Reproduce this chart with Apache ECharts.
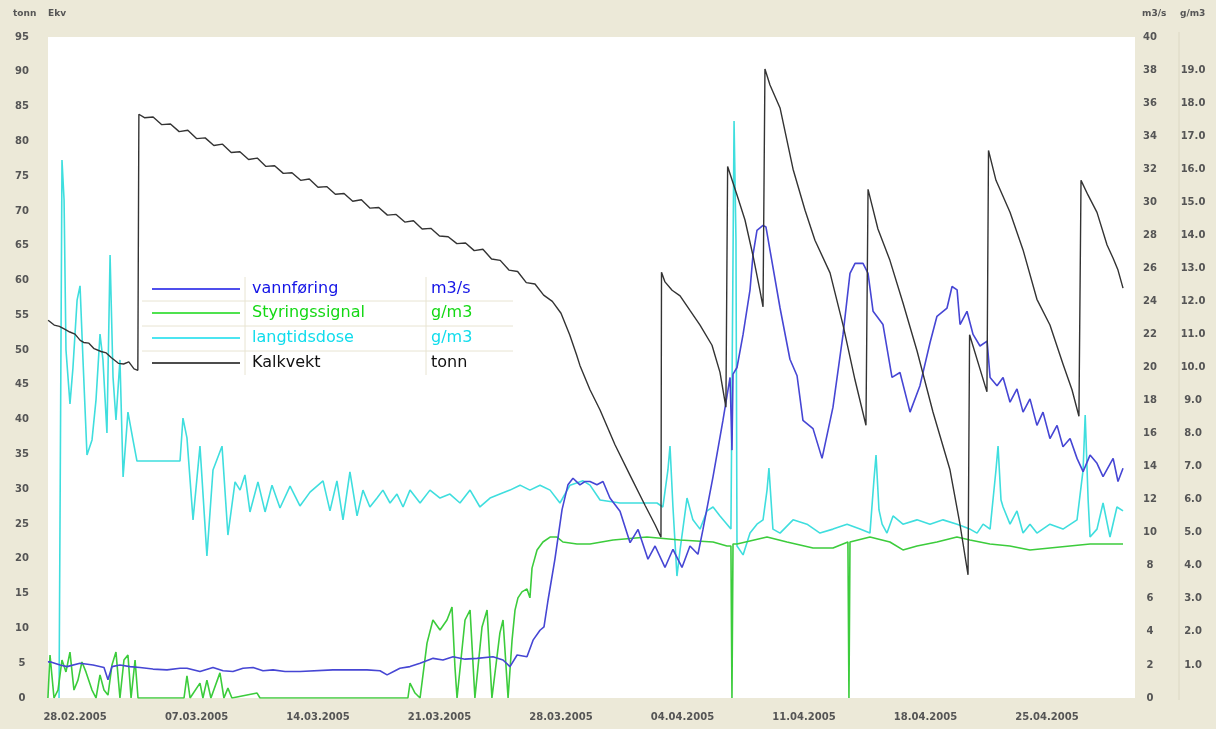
<!DOCTYPE html>
<html>
<head>
<meta charset="utf-8">
<script src="https://cdn.jsdelivr.net/npm/echarts@6/dist/echarts.min.js"></script>
<style>
html,body{margin:0;padding:0;background:#ECE9D8;}
#chart{width:1216px;height:729px;}
</style>
</head>
<body>
<div id="chart"></div>
<script>
// x values are days counted from 28.02.2005 00:00
const dateTicks = [0, 7, 14, 21, 28, 35, 42, 49, 56];
const dateLabels = ['28.02.2005','07.03.2005','14.03.2005','21.03.2005','28.03.2005','04.04.2005','11.04.2005','18.04.2005','25.04.2005'];

const seriesNames = ['vannføring', 'Styringssignal', 'langtidsdose', 'Kalkvekt'];
const seriesUnits = ['m3/s', 'g/m3', 'g/m3', 'tonn'];

// Kalkvekt (tonn, left axis)
const kalkvekt = [
[-1.55,54.3],[-1.2,53.6],[-0.9,53.4],[-0.6,53.0],[-0.3,52.6],[0.0,52.3],[0.3,51.4],[0.5,51.1],[0.8,51.0],[1.1,50.2],[1.5,49.8],[1.8,49.6],[2.1,48.9],[2.5,48.1],[2.8,48.0],[3.1,48.3],[3.4,47.3],[3.62,47.1],
[3.68,83.9],[3.75,83.9],[4.0,83.4],[4.5,83.5],[5.0,82.4],[5.5,82.5],[6.0,81.4],[6.5,81.6],[7.0,80.4],[7.5,80.5],[8.0,79.4],[8.5,79.6],[9.0,78.4],[9.5,78.5],[10.0,77.4],[10.5,77.6],[11.0,76.4],[11.5,76.5],[12.0,75.4],[12.5,75.5],[13.0,74.4],[13.5,74.6],[14.0,73.4],[14.5,73.5],[15.0,72.4],[15.5,72.5],[16.0,71.4],[16.5,71.6],[17.0,70.4],[17.5,70.5],[18.0,69.4],[18.5,69.5],[19.0,68.4],[19.5,68.6],[20.0,67.4],[20.5,67.5],[21.0,66.4],[21.5,66.3],[22.0,65.3],[22.5,65.4],[23.0,64.3],[23.5,64.5],[24.0,63.1],[24.5,62.9],[25.0,61.5],[25.5,61.3],[26.0,59.7],[26.5,59.5],[27.0,57.9],[27.5,57.0],[28.0,55.3],[28.5,52.2],[28.9,49.3],[29.09,47.8],[29.67,44.3],[30.25,41.4],[31.11,36.4],[31.98,32.0],[32.84,27.7],[33.42,24.9],[33.76,23.1],
[33.79,61.2],[33.99,59.8],[34.40,58.6],[34.86,57.8],[35.43,55.7],[36.01,53.6],[36.70,50.7],[37.16,46.8],[37.50,41.8],
[37.60,76.4],[38.14,72.3],[38.60,68.7],[39.06,63.6],[39.46,58.6],[39.64,56.2],
[39.75,90.4],[40.04,88.1],[40.62,84.8],[41.37,76.0],[42.06,70.1],[42.63,65.8],[43.50,61.1],[44.25,53.6],[44.94,45.7],[45.57,39.2],
[45.69,73.1],[45.92,70.8],[46.26,67.4],[46.95,62.9],[47.70,56.8],[48.51,49.9],[49.43,41.1],[50.41,32.8],[50.99,24.9],[51.45,17.7],
[51.54,52.2],[52.54,44.0],
[52.63,78.7],[53.06,74.4],[53.87,69.8],[54.62,64.4],[55.42,57.3],[56.17,53.6],[56.92,48.0],[57.44,44.3],[57.84,40.5],
[57.96,74.4],[58.36,72.3],[58.88,69.8],[59.46,65.1],[59.81,63.2],[60.09,61.5],[60.38,58.9]
];

// vannføring (m3/s, right axis)
const vannforing = [
[-1.56,2.18],[-1.44,2.2],[-0.86,2.0],[-0.46,1.9],[0.29,2.1],[1.04,2.0],[1.67,1.85],[1.90,1.1],[2.13,1.9],[2.59,2.0],[3.17,1.9],[3.74,1.85],[4.49,1.75],[5.30,1.7],[6.05,1.8],[6.45,1.8],[7.20,1.6],[7.95,1.85],[8.53,1.65],[9.10,1.6],[9.68,1.8],[10.26,1.85],[10.83,1.65],[11.41,1.7],[12.10,1.6],[12.96,1.6],[14.86,1.7],[16.82,1.7],[17.57,1.65],[17.98,1.4],[18.44,1.65],[18.72,1.8],[19.30,1.9],[19.88,2.1],[20.63,2.4],[21.20,2.3],[21.78,2.5],[22.47,2.35],[23.16,2.4],[24.08,2.5],[24.66,2.3],[25.06,1.9],[25.47,2.6],[26.04,2.5],[26.39,3.5],[26.79,4.1],[27.02,4.3],[27.25,5.9],[27.65,8.4],[28.06,11.4],[28.40,12.9],[28.69,13.3],[29.09,12.9],[29.38,13.1],[29.67,13.1],[30.07,12.9],[30.42,13.1],[30.82,12.1],[31.40,11.3],[31.98,9.4],[32.44,10.2],[33.01,8.4],[33.42,9.2],[33.99,7.9],[34.45,9.0],[34.97,7.9],[35.43,9.2],[35.89,8.7],[36.18,10.2],[36.76,13.4],[37.33,16.8],[37.74,19.4],[37.79,19.5],[37.85,15.0],[37.91,19.6],[38.14,20.0],[38.49,22.0],[38.89,24.7],[39.06,26.8],[39.29,28.3],[39.64,28.6],[39.81,28.5],[40.04,27.1],[40.62,23.6],[41.19,20.5],[41.60,19.5],[41.94,16.8],[42.52,16.3],[43.04,14.5],[43.67,17.6],[44.25,22.0],[44.65,25.7],[44.94,26.3],[45.40,26.3],[45.69,25.7],[45.98,23.4],[46.55,22.6],[47.07,19.4],[47.53,19.7],[48.11,17.3],[48.68,18.9],[49.26,21.5],[49.66,23.1],[50.24,23.6],[50.53,24.9],[50.82,24.7],[50.99,22.6],[51.39,23.4],[51.74,22.0],[52.14,21.3],[52.55,21.6],[52.72,19.4],[53.12,18.9],[53.47,19.4],[53.87,17.9],[54.27,18.7],[54.62,17.3],[55.02,18.1],[55.42,16.5],[55.77,17.3],[56.17,15.7],[56.58,16.5],[56.92,15.2],[57.33,15.7],[57.73,14.5],[58.08,13.7],[58.48,14.7],[58.88,14.2],[59.23,13.4],[59.81,14.5],[60.09,13.1],[60.38,13.9]
];

// Styringssignal (g/m3, right axis)
const styringssignal = [
[-1.56,0],[-1.44,1.30],[-1.21,0],[-0.98,0.24],[-0.75,1.15],[-0.52,0.79],[-0.29,1.39],[-0.06,0.24],[0.17,0.54],[0.40,1.09],[0.63,0.79],[0.98,0.24],[1.21,0],[1.44,0.70],[1.67,0.24],[1.90,0.09],[2.13,1.00],[2.36,1.39],[2.59,0],[2.82,1.15],[3.05,1.30],[3.23,0],[3.46,1.15],[3.63,0],
[6.28,0],[6.45,0.67],[6.63,0],[7.20,0.45],[7.37,0],[7.60,0.54],[7.83,0],[8.35,0.76],[8.58,0],[8.81,0.30],[9.04,0],[10.49,0.15],[10.66,0],
[19.18,0],[19.30,0.45],[19.59,0.15],[19.88,0],[20.28,1.66],[20.62,2.36],[21.03,2.06],[21.43,2.36],[21.72,2.75],[21.89,0.94],[22.01,0],[22.47,2.36],[22.76,2.66],[23.04,0],[23.45,2.15],[23.74,2.66],[24.02,0],[24.48,1.97],[24.66,2.36],[24.95,0],[25.18,1.75],[25.35,2.66],[25.52,3.03],[25.75,3.21],[26.04,3.30],[26.21,3.03],[26.33,3.93],[26.62,4.48],[26.96,4.72],[27.37,4.87],[27.77,4.87],[28.11,4.72],[28.92,4.66],[29.67,4.66],[31.00,4.78],[32.95,4.87],[34.86,4.78],[36.76,4.72],[37.56,4.60],[37.79,4.60],[37.85,0],[37.91,4.66],[38.14,4.66],[39.87,4.87],[41.02,4.72],[42.52,4.54],[43.67,4.54],[44.53,4.72],[44.59,0],[44.65,4.72],[45.80,4.87],[46.95,4.72],[47.70,4.48],[48.51,4.60],[49.66,4.72],[50.81,4.87],[51.56,4.78],[52.71,4.66],[53.86,4.60],[55.02,4.48],[56.17,4.54],[57.32,4.60],[58.48,4.66],[60.38,4.66]
];

// langtidsdose (g/m3, right axis)
const langtidsdose = [
[-0.92,0],[-0.81,0],[-0.75,16.28],[-0.63,15.07],[-0.52,10.53],[-0.29,8.90],[-0.12,9.98],[0.12,12.04],[0.29,12.47],[0.46,10.23],[0.69,7.35],[0.98,7.81],[1.21,9.02],[1.44,11.01],[1.61,10.23],[1.84,8.02],[2.02,13.40],[2.19,9.71],[2.36,8.41],[2.59,10.23],[2.77,6.69],[3.05,8.65],[3.34,7.81],[3.57,7.17],[6.05,7.17],[6.22,8.47],[6.45,7.87],[6.80,5.39],[7.20,7.62],[7.60,4.30],[7.95,6.90],[8.47,7.62],[8.81,4.93],[9.22,6.54],[9.51,6.29],[9.79,6.75],[10.08,5.63],[10.54,6.54],[10.95,5.63],[11.35,6.44],[11.81,5.75],[12.39,6.41],[12.96,5.81],[13.54,6.23],[14.29,6.57],[14.69,5.66],[15.09,6.57],[15.44,5.39],[15.84,6.84],[16.25,5.51],[16.59,6.29],[16.99,5.78],[17.40,6.05],[17.74,6.29],[18.15,5.90],[18.55,6.17],[18.90,5.78],[19.30,6.29],[19.88,5.90],[20.45,6.29],[21.03,6.05],[21.60,6.17],[22.18,5.90],[22.76,6.29],[23.33,5.78],[23.91,6.05],[24.48,6.17],[25.06,6.29],[25.64,6.44],[26.21,6.29],[26.79,6.44],[27.37,6.29],[27.94,5.90],[28.52,6.44],[29.27,6.57],[29.67,6.44],[30.25,5.99],[31.40,5.90],[32.55,5.90],[33.53,5.90],[33.87,5.78],[34.16,6.90],[34.28,7.62],[34.45,5.78],[34.68,3.69],[34.86,4.48],[35.26,6.05],[35.60,5.39],[36.01,5.11],[36.41,5.66],[36.76,5.78],[37.16,5.51],[37.56,5.26],[37.79,5.11],[37.97,17.46],[38.08,13.86],[38.14,4.60],[38.49,4.33],[38.89,4.99],[39.29,5.26],[39.64,5.39],[39.87,6.29],[39.98,6.96],[40.21,5.11],[40.62,4.99],[41.37,5.39],[42.17,5.26],[42.92,4.99],[43.67,5.11],[44.48,5.26],[45.23,5.11],[45.80,4.99],[46.03,6.60],[46.15,7.35],[46.32,5.69],[46.50,5.26],[46.78,4.99],[47.13,5.51],[47.70,5.26],[48.51,5.39],[49.26,5.26],[50.01,5.39],[50.82,5.26],[51.56,5.11],[51.97,4.99],[52.32,5.26],[52.72,5.11],[53.06,6.90],[53.18,7.62],[53.35,5.99],[53.47,5.78],[53.87,5.26],[54.27,5.66],[54.62,4.99],[55.02,5.26],[55.42,4.99],[56.17,5.26],[56.92,5.11],[57.73,5.39],[58.08,6.90],[58.20,8.56],[58.37,5.99],[58.48,4.87],[58.88,5.11],[59.23,5.90],[59.63,4.87],[60.03,5.78],[60.38,5.66]
];

const lineColors = ['#4646d4', '#3ccc3c', '#3fdede', '#333333'];
const textColors = ['#1414e6', '#14d814', '#10dcec', '#111111'];

const chart = echarts.init(document.getElementById('chart'), null, {renderer: 'canvas'});

const labelStyle = {fontFamily: 'DejaVu Sans', fontSize: 10, fontWeight: 'bold', color: '#555'};

const legendElems = [];
const rowY = [289, 313, 338, 363];
for (let i = 0; i < 4; i++) {
  legendElems.push({type: 'line', shape: {x1: 152, y1: rowY[i], x2: 240, y2: rowY[i]}, style: {stroke: textColors[i], lineWidth: 1.5}, z: 100});
  legendElems.push({type: 'text', x: 252, y: rowY[i], style: {text: seriesNames[i], fill: textColors[i], font: '16px "DejaVu Sans"', verticalAlign: 'middle'}, z: 100});
  legendElems.push({type: 'text', x: 431, y: rowY[i], style: {text: seriesUnits[i], fill: textColors[i], font: '16px "DejaVu Sans"', verticalAlign: 'middle'}, z: 100});
}
[301, 326, 351].forEach(y => legendElems.push({type: 'line', shape: {x1: 142, y1: y, x2: 513, y2: y}, style: {stroke: '#e8e4d2', lineWidth: 1}, z: 99}));
[245, 426].forEach(x => legendElems.push({type: 'line', shape: {x1: x, y1: 277, x2: x, y2: 375}, style: {stroke: '#e8e4d2', lineWidth: 1}, z: 99}));

const headerText = [
  {t: 'tonn', x: 13}, {t: 'Ekv', x: 48}, {t: 'm3/s', x: 1142}, {t: 'g/m3', x: 1180}
].map(h => ({type: 'text', x: h.x, y: 14, style: {text: h.t, fill: '#555', font: 'bold 9px "DejaVu Sans"', verticalAlign: 'middle'}}));

const option = {
  backgroundColor: '#ECE9D8',
  animation: false,
  grid: {left: 48, right: 81, top: 37, bottom: 31, show: true, backgroundColor: '#ffffff', borderWidth: 0},
  xAxis: {
    type: 'value', min: -1.556, max: 61.07,
    axisLine: {show: false}, axisTick: {show: false}, splitLine: {show: false},
    axisLabel: Object.assign({}, labelStyle, {
      customValues: dateTicks, margin: 14,
      formatter: v => { const i = dateTicks.indexOf(Math.round(v)); return i >= 0 ? dateLabels[i] : ''; }
    })
  },
  yAxis: [
    {type: 'value', position: 'left', min: 0, max: 95, interval: 5,
     axisLine: {show: false}, axisTick: {show: false}, splitLine: {show: false},
     axisLabel: Object.assign({}, labelStyle, {align: 'center', margin: 26})},
    {type: 'value', position: 'right', min: 0, max: 40, interval: 2,
     axisLine: {show: false}, axisTick: {show: false}, splitLine: {show: false},
     axisLabel: Object.assign({}, labelStyle, {align: 'center', margin: 15})},
    {type: 'value', position: 'right', offset: 43, min: 0, max: 20, interval: 1,
     axisLine: {show: false}, axisTick: {show: false}, splitLine: {show: false},
     axisLabel: Object.assign({}, labelStyle, {align: 'center', margin: 15, showMinLabel: false, showMaxLabel: false, formatter: v => v.toFixed(1)})}
  ],
  series: [
    {name: seriesNames[2], type: 'line', yAxisIndex: 2, data: langtidsdose, showSymbol: false, lineStyle: {color: lineColors[2], width: 1.6}, itemStyle: {color: lineColors[2]}, z: 2},
    {name: seriesNames[1], type: 'line', yAxisIndex: 2, data: styringssignal, showSymbol: false, lineStyle: {color: lineColors[1], width: 1.6}, itemStyle: {color: lineColors[1]}, z: 3},
    {name: seriesNames[0], type: 'line', yAxisIndex: 1, data: vannforing, showSymbol: false, lineStyle: {color: lineColors[0], width: 1.6}, itemStyle: {color: lineColors[0]}, z: 4},
    {name: seriesNames[3], type: 'line', yAxisIndex: 0, data: kalkvekt, showSymbol: false, lineStyle: {color: lineColors[3], width: 1.4}, itemStyle: {color: lineColors[3]}, z: 5}
  ],
  graphic: [
    {type: 'line', shape: {x1: 1179, y1: 32, x2: 1179, y2: 700}, style: {stroke: '#dcd8c4', lineWidth: 1}},
    ...headerText,
    ...legendElems
  ]
};
chart.setOption(option);
</script>
</body>
</html>
